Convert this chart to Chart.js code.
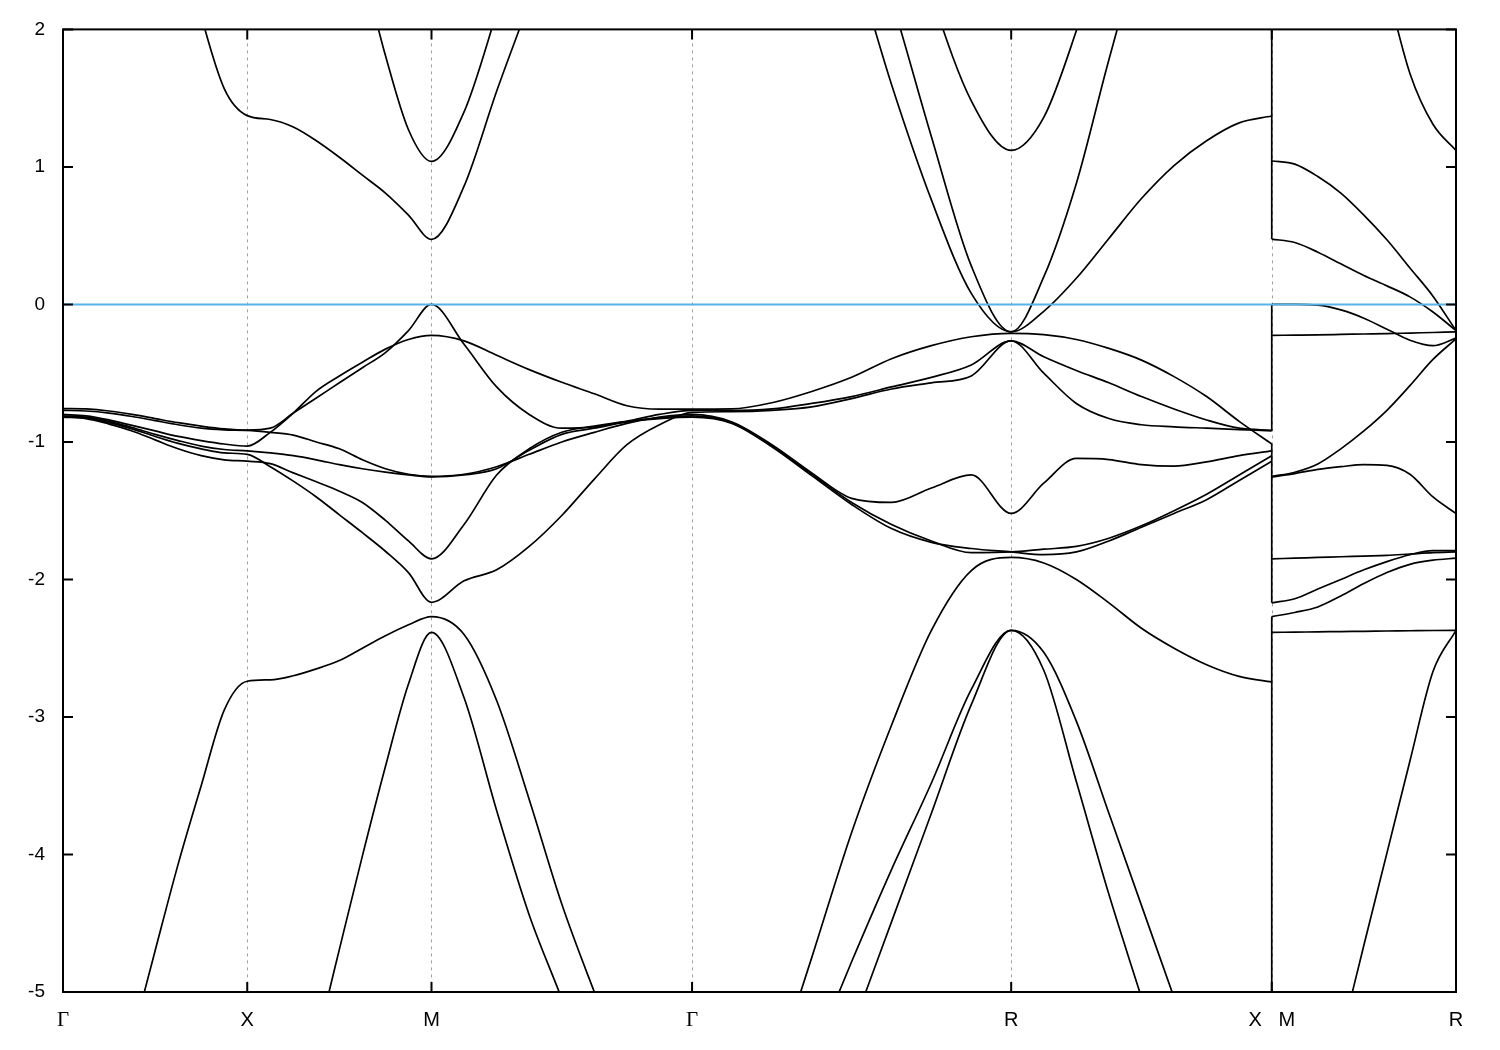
<!DOCTYPE html>
<html>
<head>
<meta charset="utf-8">
<script src="https://cdn.jsdelivr.net/npm/chart.js@4.4.1/dist/chart.umd.min.js"></script>
<style>
  body { margin: 0; background: #fff; }
  canvas { display: block; }
</style>
</head>
<body>
<canvas id="bands" width="1500" height="1050"></canvas>
<script>
// high symmetry points along the path G-X-M-G-R-X | M-R
const symLabels = ['Γ', 'X', 'M', 'Γ', 'R', 'X   M', 'R'];
const symK = [0, 0.5, 1.0, 1.7071, 2.5731, 3.2802, 3.7802];
const fermiLevel = 0;

// energies (eV), 9 samples per segment: G-X | X-M | M-G | G-R | R-X (shared ends written once)
const band1 = [-0.757, -0.76, -0.775, -0.80, -0.83, -0.86, -0.885, -0.905, -0.914,
  -0.90, -0.79, -0.68, -0.57, -0.46, -0.35, -0.19, 0.0,
  -0.29, -0.60, -0.80, -0.90, -0.89, -0.85, -0.80, -0.77,
  -0.772, -0.76, -0.72, -0.67, -0.60, -0.53, -0.44, -0.265,
  -0.38, -0.48, -0.57, -0.67, -0.76, -0.84, -0.90, -0.915];
const band2 = [-0.77, -0.775, -0.79, -0.815, -0.845, -0.875, -0.90, -0.912, -0.916,
  -0.93, -0.95, -1.0, -1.05, -1.13, -1.195, -1.235, -1.25,
  -1.235, -1.18, -1.09, -1.0, -0.93, -0.865, -0.82, -0.80,
  -0.855, -1.02, -1.225, -1.41, -1.44, -1.335, -1.24, -1.52,
  -1.30, -1.12, -1.128, -1.165, -1.176, -1.145, -1.10, -1.065];
const band3 = [-0.80, -0.81, -0.84, -0.88, -0.92, -0.96, -0.99, -1.015, -1.03,
  -0.93, -0.79, -0.63, -0.52, -0.42, -0.325, -0.255, -0.225,
  -0.265, -0.37, -0.474, -0.566, -0.65, -0.737, -0.762, -0.762,
  -0.76, -0.715, -0.633, -0.53, -0.395, -0.30, -0.235, -0.21,
  -0.22, -0.255, -0.32, -0.405, -0.525, -0.67, -0.85, -1.015];
const band4 = [-0.81, -0.82, -0.85, -0.895, -0.945, -0.99, -1.03, -1.055, -1.065,
  -1.08, -1.10, -1.13, -1.165, -1.195, -1.22, -1.24, -1.255,
  -1.24, -1.195, -1.06, -0.945, -0.90, -0.855, -0.825, -0.81,
  -0.86, -1.03, -1.235, -1.44, -1.60, -1.72, -1.805, -1.80,
  -1.78, -1.76, -1.70, -1.61, -1.50, -1.38, -1.24, -1.10];
const band5 = [-0.815, -0.825, -0.86, -0.905, -0.96, -1.01, -1.05, -1.08, -1.09,
  -1.18, -1.285, -1.40, -1.53, -1.66, -1.795, -1.95, -2.166,
  -2.01, -1.93, -1.76, -1.535, -1.27, -1.02, -0.875, -0.785,
  -0.78, -0.77, -0.745, -0.685, -0.615, -0.57, -0.52, -0.265,
  -0.50, -0.72, -0.83, -0.875, -0.89, -0.90, -0.91, -0.92];
const band6 = [-0.82, -0.83, -0.87, -0.92, -0.985, -1.05, -1.10, -1.13, -1.14,
  -1.158, -1.225, -1.29, -1.358, -1.44, -1.57, -1.72, -1.85,
  -1.60, -1.24, -1.05, -0.93, -0.885, -0.85, -0.83, -0.82,
  -0.865, -1.035, -1.245, -1.455, -1.63, -1.73, -1.775, -1.80,
  -1.82, -1.80, -1.72, -1.62, -1.52, -1.42, -1.28, -1.14];
const band7 = [-7.2, -6.6, -5.97, -5.34, -4.70, -4.07, -3.50, -2.95, -2.74,
  -2.73, -2.70, -2.65, -2.59, -2.50, -2.41, -2.33, -2.27,
  -2.40, -2.88, -3.60, -4.36, -5.0, -5.6, -6.2, -6.8,
  -6.56, -5.65, -4.75, -3.84, -3.06, -2.37, -1.935, -1.84,
  -1.88, -2.0, -2.17, -2.355, -2.50, -2.62, -2.705, -2.745];
const band8 = [-9.0, -9.0, -8.9, -8.8, -8.6, -8.4, -8.1, -7.8, -7.4,
  -6.8, -6.1, -5.38, -4.69, -4.01, -3.36, -2.76, -2.385,
  -2.86, -3.68, -4.44, -5.05, -5.7, -6.3, -6.8, -7.2,
  -6.9, -6.2, -5.48, -4.78, -4.11, -3.48, -2.80, -2.37,
  -2.53, -3.03, -3.70, -4.37, -5.04, -5.7, -6.3, -6.8];
const band9 = [-9.5, -9.5, -9.5, -9.5, -9.5, -9.5, -9.5, -9.5, -9.5,
  -9.5, -9.5, -9.5, -9.5, -9.5, -9.5, -9.5, -9.5,
  -9.5, -9.5, -9.5, -9.5, -9.4, -9.2, -8.9, -8.5,
  -7.7, -6.9, -6.1, -5.28, -4.49, -3.70, -2.91, -2.37,
  -2.66, -3.47, -4.29, -5.04, -5.8, -6.5, -7.2, -7.9];
const band10 = [5.0, 4.9, 4.5, 4.0, 3.4, 2.8, 2.1, 1.57, 1.373,
  1.345, 1.29, 1.19, 1.07, 0.94, 0.81, 0.65, 0.473,
  0.86, 1.55, 2.2, 2.9, 3.4, 3.8, 4.0, 4.1,
  4.0, 3.7, 3.3, 2.55, 1.60, 0.76, 0.08, -0.2,
  -0.05, 0.19, 0.48, 0.77, 1.01, 1.19, 1.32, 1.37];
const band11 = [5.5, 5.4, 5.2, 5.0, 4.8, 4.6, 4.4, 4.2, 4.0,
  3.9, 3.7, 3.4, 3.0, 2.45, 1.81, 1.27, 1.04,
  1.40, 2.12, 2.9, 3.5, 3.8, 4.0, 4.1, 4.15,
  4.0, 3.8, 3.5, 3.1, 2.22, 1.22, 0.28, -0.2,
  0.2, 0.88, 1.78, 2.6, 3.2, 3.6, 3.8, 3.9];
const band12 = [7, 7, 7, 7, 7, 7, 7, 7, 7,
  7, 7, 7, 7, 7, 7, 7, 7,
  7, 7, 7, 7, 6.8, 6.5, 6.2, 6.0,
  5.5, 5.0, 4.5, 4.0, 3.2, 2.25, 1.48, 1.12,
  1.36, 1.99, 2.75, 3.4, 3.9, 4.3, 4.6, 4.7];

// M-R panel, same band order
const band1MR = [0.0, 0.0, -0.005, -0.04, -0.10, -0.18, -0.26, -0.30, -0.245];
const band2MR = [-1.255, -1.23, -1.20, -1.18, -1.165, -1.17, -1.235, -1.40, -1.52];
const band3MR = [-1.25, -1.22, -1.16, -1.05, -0.92, -0.77, -0.59, -0.40, -0.25];
const band4MR = [-1.85, -1.845, -1.84, -1.835, -1.83, -1.825, -1.815, -1.805, -1.80];
const band5MR = [-0.225, -0.223, -0.221, -0.218, -0.215, -0.212, -0.208, -0.204, -0.20];
const band6MR = [-2.17, -2.14, -2.07, -2.0, -1.93, -1.87, -1.82, -1.79, -1.79];
const band7MR = [-2.27, -2.24, -2.20, -2.12, -2.03, -1.95, -1.89, -1.86, -1.845];
const band8MR = [-2.385, -2.383, -2.381, -2.379, -2.377, -2.375, -2.373, -2.371, -2.37];
const band9MR = [-7.3, -6.7, -6.0, -5.34, -4.66, -3.99, -3.32, -2.67, -2.37];
const band10MR = [0.475, 0.45, 0.38, 0.295, 0.21, 0.135, 0.055, -0.055, -0.19];
const band11MR = [1.043, 1.02, 0.93, 0.81, 0.65, 0.47, 0.265, 0.06, -0.19];
const band12MR = [5.0, 4.6, 4.1, 3.5, 2.9, 2.3, 1.68, 1.31, 1.12];

const mainBands = [band1, band2, band3, band4, band5, band6, band7, band8, band9, band10, band11, band12];
const rightBands = [band1MR, band2MR, band3MR, band4MR, band5MR, band6MR, band7MR, band8MR, band9MR, band10MR, band11MR, band12MR];

// sample positions along the path
const nSeg = 8;
const kMain = [];
for (let s = 0; s < 5; s++)
    for (let i = (s ? 1 : 0); i <= nSeg; i++)
        kMain.push(symK[s] + (symK[s + 1] - symK[s]) * i / nSeg);
const kRight = [];
for (let i = 0; i <= nSeg; i++)
    kRight.push(symK[5] + (symK[6] - symK[5]) * i / nSeg);

function bandSet(k, vals) {
    return {
        data: vals.map((v, i) => ({x: k[i], y: v})),
        borderColor: '#000',
        borderWidth: 1.7,
        pointRadius: 0,
        cubicInterpolationMode: 'monotone',
        clip: 0,
        order: 1
    };
}

let datasets = [];
// Fermi level
datasets.push({
    data: [{x: symK[0], y: fermiLevel}, {x: symK[6], y: fermiLevel}],
    borderColor: '#56b4e9', borderWidth: 2, pointRadius: 0, tension: 0, clip: 0, order: 0
});
mainBands.forEach(b => datasets.push(bandSet(kMain, b)));
rightBands.forEach(b => datasets.push(bandSet(kRight, b)));

// jump X -> M drawn as vertical pieces, like the original plot does
let jumps = [];
mainBands.forEach((b, i) => {
    jumps.push({x: symK[5], y: b[b.length - 1]});
    jumps.push({x: symK[5], y: rightBands[i][0]});
    jumps.push({x: symK[5], y: null});
});
datasets.push({data: jumps, borderColor: '#000', borderWidth: 1.7, pointRadius: 0, tension: 0, spanGaps: false, clip: 0, order: 1});

const frame = {
    id: 'frame',
    beforeDatasetsDraw(chart) {
        const {ctx, chartArea: a} = chart;
        const x = chart.scales.x;
        ctx.save();
        ctx.strokeStyle = '#a0a0a0';
        ctx.lineWidth = 1;
        ctx.setLineDash([3, 4]);
        symK.slice(1, -1).forEach(k => {
            const px = Math.round(x.getPixelForValue(k)) + 0.5;
            ctx.beginPath();
            ctx.moveTo(px, a.top);
            ctx.lineTo(px, a.bottom);
            ctx.stroke();
        });
        ctx.restore();
    },
    afterDraw(chart) {
        const {ctx, chartArea: a} = chart;
        const x = chart.scales.x, y = chart.scales.y;
        ctx.save();
        ctx.strokeStyle = '#000';
        ctx.lineWidth = 2;
        ctx.strokeRect(a.left, a.top, a.right - a.left, a.bottom - a.top);
        ctx.beginPath();
        y.ticks.forEach(t => {
            const py = y.getPixelForValue(t.value);
            ctx.moveTo(a.left, py); ctx.lineTo(a.left + 10, py);
            ctx.moveTo(a.right, py); ctx.lineTo(a.right - 10, py);
        });
        symK.forEach(k => {
            const px = x.getPixelForValue(k);
            ctx.moveTo(px, a.top); ctx.lineTo(px, a.top + 10);
            ctx.moveTo(px, a.bottom); ctx.lineTo(px, a.bottom - 10);
        });
        ctx.stroke();
        ctx.restore();
    }
};

Chart.defaults.font.family = "'Liberation Sans', Arial, sans-serif";
Chart.defaults.color = '#000';

let ctx = document.getElementById('bands').getContext('2d');
new Chart(ctx, {
    type: 'line',
    data: {datasets: datasets},
    options: {
        responsive: false,
        animation: false,
        events: [],
        devicePixelRatio: 1,
        layout: {padding: {top: 28, right: 44, left: 0, bottom: 0}},
        plugins: {legend: {display: false}, tooltip: {enabled: false}},
        scales: {
            x: {
                type: 'linear', min: symK[0], max: symK[6],
                afterBuildTicks: s => { s.ticks = symK.map(v => ({value: v})); },
                afterFit: s => { s.height = 58; },
                ticks: {
                    autoSkip: false, maxRotation: 0, padding: 16,
                    font: c => symLabels[c.index] === 'Γ'
                        ? {family: "'Liberation Serif', serif", size: 21}
                        : {size: 20},
                    callback: (v, i) => symLabels[i]
                },
                grid: {display: false, drawTicks: false},
                border: {display: false}
            },
            y: {
                min: -5, max: 2,
                afterFit: s => { s.width = 63; },
                ticks: {stepSize: 1, padding: 18, font: {size: 19}},
                grid: {display: false, drawTicks: false},
                border: {display: false}
            }
        }
    },
    plugins: [frame]
});
</script>
</body>
</html>
